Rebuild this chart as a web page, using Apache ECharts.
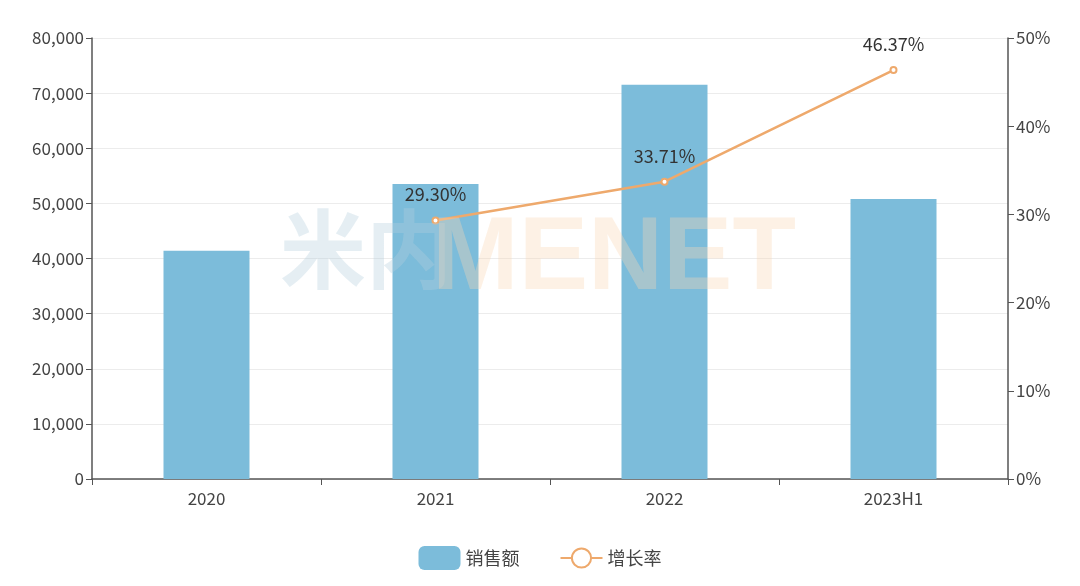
<!DOCTYPE html>
<html>
<head>
<meta charset="utf-8">
<script src="https://cdn.jsdelivr.net/npm/echarts@6/dist/echarts.min.js"></script>
<style>html,body{margin:0;padding:0;background:#fff;}#c{width:1080px;height:586px;}</style>
</head>
<body>
<div id="c"></div>
<script>
var categories = ['2020', '2021', '2022', '2023H1'];
var salesValues = [41400, 53500, 71500, 50800];
var growthValues = [null, 29.30, 33.71, 46.37];
var leftTicks = [0, 10000, 20000, 30000, 40000, 50000, 60000, 70000, 80000];
var rightTicks = [0, 10, 20, 30, 40, 50];

var font = '"Noto Sans CJK SC", "Noto Sans", sans-serif';
var chart = echarts.init(document.getElementById('c'));
chart.setOption({
  animation: false,
  textStyle: { fontFamily: font },
  grid: { left: 92, right: 72, top: 38, bottom: 107 },
  legend: {
    bottom: 11, left: 'center',
    itemWidth: 42, itemHeight: 24, itemGap: 40,
    textStyle: { fontSize: 18, color: '#444', fontFamily: font },
    data: [
      { name: '销售额', icon: 'roundRect' },
      { name: '增长率' }
    ]
  },
  graphic: [{
    type: 'text', left: 280, top: 206, z: 100, silent: true,
    style: { text: '米内', font: 'bold 86px ' + font, fill: 'rgba(180,205,222,0.35)' }
  }, {
    type: 'text', left: 432, top: 208, z: 100, silent: true,
    style: { text: 'MENET', font: 'bold 104px "Liberation Sans", Arial, sans-serif', fill: 'rgba(250,215,180,0.35)' }
  }],
  xAxis: {
    type: 'category', data: categories,
    axisLine: { lineStyle: { color: '#555', width: 1.5 } },
    axisTick: { show: true, length: 6, lineStyle: { color: '#555' } },
    axisLabel: { fontSize: 17, color: '#444', margin: 11 }
  },
  yAxis: [{
    type: 'value', min: leftTicks[0], max: leftTicks[leftTicks.length - 1], interval: 10000,
    axisLine: { show: true, lineStyle: { color: '#555', width: 1.5 } },
    axisTick: { show: true, length: 6, lineStyle: { color: '#555' } },
    axisLabel: { fontSize: 17, color: '#444', margin: 8,
      formatter: function (v) { return v.toLocaleString('en-US'); } },
    splitLine: { lineStyle: { color: '#ececec' } }
  }, {
    type: 'value', min: rightTicks[0], max: rightTicks[rightTicks.length - 1], interval: 10,
    position: 'right',
    axisLine: { show: true, lineStyle: { color: '#555', width: 1.5 } },
    axisTick: { show: true, length: 6, lineStyle: { color: '#555' } },
    axisLabel: { fontSize: 17, color: '#444', margin: 8, formatter: '{value}%' },
    splitLine: { show: false }
  }],
  series: [{
    name: '销售额', type: 'bar', data: salesValues, barWidth: 86,
    itemStyle: { color: '#7cbcda' }
  }, {
    name: '增长率', type: 'line', yAxisIndex: 1, data: growthValues,
    connectNulls: false,
    symbol: 'emptyCircle', symbolSize: 6,
    lineStyle: { color: '#eea96c', width: 2.5 },
    itemStyle: { color: '#eea96c', borderColor: '#eea96c' },
    label: { show: true, position: 'top', distance: 13, fontSize: 18, color: '#333',
      formatter: function (p) { return p.value.toFixed(2) + '%'; } }
  }]
});
</script>
</body>
</html>
